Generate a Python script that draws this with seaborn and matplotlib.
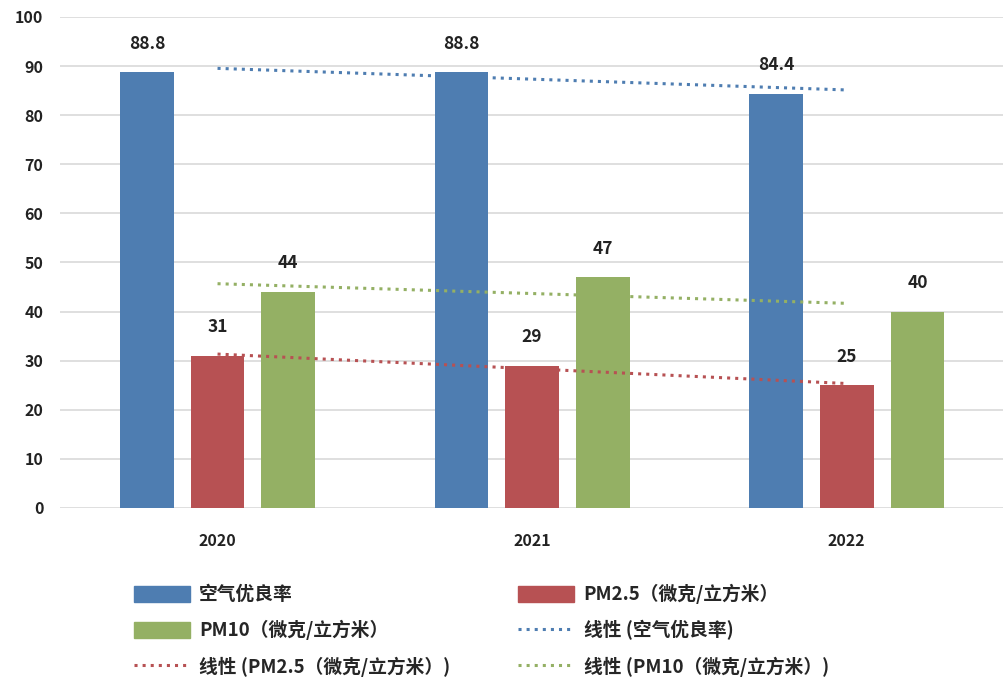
import matplotlib
matplotlib.use('Agg')
import matplotlib.pyplot as plt
from matplotlib.patches import Patch
from matplotlib.lines import Line2D
import seaborn as sns
import pandas as pd
import numpy as np

years = ['2020', '2021', '2022']
series_names = ['空气优良率', 'PM2.5（微克/立方米）', 'PM10（微克/立方米）']
air_rate = [88.8, 88.8, 84.4]
pm25 = [31, 29, 25]
pm10 = [44, 47, 40]
colors = ['#4E7DB1', '#B75153', '#94B064']

sns.set_style('white')
plt.rcParams['font.family'] = ['Noto Sans CJK SC', 'DejaVu Sans']

df = pd.DataFrame({
    'year': years * 3,
    'series': [s for s in series_names for _ in years],
    'value': air_rate + pm25 + pm10,
})

fig = plt.figure(figsize=(10.04, 6.79), dpi=100)
ax = fig.add_axes([0.06, 0.252, 0.94, 0.723])

sns.barplot(data=df, x='year', y='value', hue='series', hue_order=series_names,
            palette=colors, saturation=1, width=0.674, gap=0.24, linewidth=0,
            legend=False, ax=ax)

for cont in ax.containers:
    ax.bar_label(cont, labels=['{:g}'.format(b.get_height()) for b in cont],
                 padding=14, fontsize=12.5, fontweight='bold', color='#222222')

# linear trend lines
xs = np.arange(len(years))
for vals, c in zip([air_rate, pm25, pm10], colors):
    k, b = np.polyfit(xs, vals, 1)
    ax.plot(xs, k * xs + b, linestyle=':', linewidth=2.2, color=c)

ax.set_ylim(0, 100)
ax.set_xlim(-0.5, 2.5)
ax.set_yticks(range(0, 101, 10))
ax.yaxis.grid(True, color='#D9D9D9', linewidth=1.2)
ax.set_axisbelow(True)
for s in ax.spines.values():
    s.set_visible(False)
ax.set_xlabel('')
ax.set_ylabel('')
ax.tick_params(axis='both', length=0, labelsize=11.5, labelcolor='#222222')
ax.tick_params(axis='y', pad=12)
ax.tick_params(axis='x', pad=18)
for t in ax.get_xticklabels() + ax.get_yticklabels():
    t.set_fontweight('bold')

trend_labels = ['线性 (空气优良率)', '线性 (PM2.5（微克/立方米）)', '线性 (PM10（微克/立方米）)']
bar_h = [Patch(color=c) for c in colors]
line_h = [Line2D([0], [0], color=c, linestyle=':', linewidth=2.2) for c in colors]
# column-major order so rows read left to right like the original
handles = [bar_h[0], bar_h[2], line_h[1], bar_h[1], line_h[0], line_h[2]]
labels = [series_names[0], series_names[2], trend_labels[1],
          series_names[1], trend_labels[0], trend_labels[2]]
fig.legend(handles, labels, ncol=2, loc='upper left', bbox_to_anchor=(0.133, 0.14),
           frameon=False, prop={'size': 13.5, 'weight': 'bold'},
           handlelength=3.0, handleheight=0.9, handletextpad=0.5,
           columnspacing=3.6, labelspacing=0.85, borderaxespad=0, borderpad=0)

fig.savefig('out.png', dpi=100)
